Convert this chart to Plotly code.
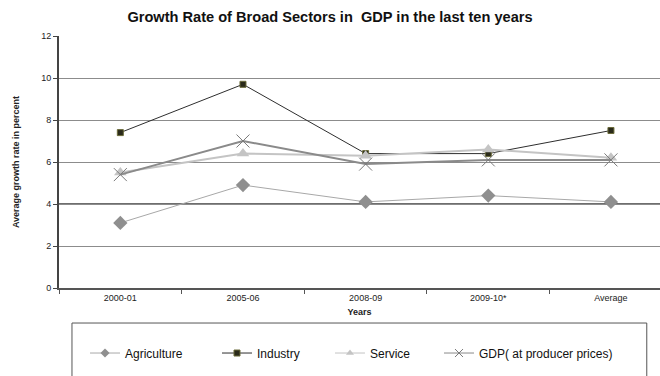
import plotly.graph_objects as go

# Sector growth rates (percent)
years = ["2000-01", "2005-06", "2008-09", "2009-10*", "Average"]
agriculture = [3.1, 4.9, 4.1, 4.4, 4.1]
industry = [7.4, 9.7, 6.4, 6.4, 7.5]
service = [5.5, 6.4, 6.3, 6.6, 6.2]
gdp = [5.4, 7.0, 5.9, 6.1, 6.1]

y_ticks = [0, 2, 4, 6, 8, 10, 12]

FONT = "Liberation Sans, Arial, sans-serif"

series = [
    dict(name="Agriculture", values=agriculture, legend="legend",
         line=dict(color="#a8a8a8", width=1),
         marker=dict(symbol="diamond", size=11, color="#8f8f8f"),
         key_marker=dict(symbol="diamond", size=7, color="#8f8f8f")),
    dict(name="Industry", values=industry, legend="legend2",
         line=dict(color="#2e2e2e", width=1),
         marker=dict(symbol="square", size=6, color="#2a2a1a",
                     line=dict(color="#6b6b3a", width=1)),
         key_marker=dict(symbol="square", size=6, color="#2a2a1a",
                         line=dict(color="#6b6b3a", width=1))),
    dict(name="Service", values=service, legend="legend3",
         line=dict(color="#c4c4c4", width=2),
         marker=dict(symbol="triangle-up", size=11, color="#c4c4c4"),
         key_marker=dict(symbol="triangle-up", size=7, color="#c4c4c4")),
    dict(name="GDP( at producer prices)", values=gdp, legend="legend4",
         line=dict(color="#8a8a8a", width=2),
         marker=dict(symbol="x-thin-open", size=13, color="#7a7a7a",
                     line=dict(color="#7a7a7a", width=1)),
         key_marker=dict(symbol="x-thin-open", size=8, color="#7a7a7a",
                         line=dict(color="#7a7a7a", width=1))),
]

fig = go.Figure()
for s in series:
    fig.add_trace(go.Scatter(
        x=years, y=s["values"], name=s["name"], mode="lines+markers",
        line=s["line"], marker=s["marker"], showlegend=False,
    ))
for s in series:
    # legend key with a smaller marker
    fig.add_trace(go.Scatter(
        x=[None], y=[None], name=s["name"], mode="lines+markers",
        line=dict(color=s["line"]["color"], width=1), marker=s["key_marker"],
        legend=s["legend"], showlegend=True, hoverinfo="skip",
    ))

# heavier rule at 4 percent
fig.add_shape(type="line", xref="paper", yref="y", x0=0, x1=1, y0=4, y1=4,
              line=dict(color="#6e6e6e", width=2), layer="below")

# legend frame
fig.add_shape(type="rect", xref="paper", yref="paper",
              x0=0.0216, x1=0.978, y0=-0.6, y1=-0.139,
              line=dict(color="#555555", width=1), fillcolor="white",
              layer="below")

legend_font = dict(family=FONT, size=12, color="#111111")


def legend_box(xpos):
    return dict(orientation="h", x=xpos, xanchor="left", y=-0.258, yanchor="middle",
                font=legend_font, bgcolor="rgba(0,0,0,0)", borderwidth=0,
                itemwidth=30)


fig.update_layout(
    width=660, height=376,
    margin=dict(l=59, r=0, t=36, b=88),
    paper_bgcolor="white", plot_bgcolor="white",
    font=dict(family=FONT, color="#222222", size=9),
    title=dict(text="<b>Growth Rate of Broad Sectors in  GDP in the last ten years</b>",
               x=0.5, xref="container", xanchor="center",
               y=1 - 17 / 376, yanchor="middle",
               font=dict(family=FONT, size=14.6, color="#111111")),
    showlegend=True,
    legend=legend_box(0.0433),
    legend2=legend_box(0.2629),
    legend3=legend_box(0.4509),
    legend4=legend_box(0.6323),
    xaxis=dict(
        type="category", range=[-0.5, 4.40],
        showgrid=False, showline=True, linecolor="#555555", linewidth=2,
        ticks="outside", ticklen=4, tickcolor="#555555",
        tickson="boundaries",
        tickfont=dict(family=FONT, size=9, color="#222222"),
        title=dict(text="<b>Years</b>", standoff=7,
                   font=dict(family=FONT, size=9, color="#222222")),
        fixedrange=True,
    ),
    yaxis=dict(
        range=[0, 12], tickvals=y_ticks,
        showgrid=True, gridcolor="#8c8c8c", gridwidth=1,
        showline=True, linecolor="#444444", linewidth=2,
        ticks="outside", ticklen=4, tickcolor="#444444",
        zeroline=False,
        tickfont=dict(family=FONT, size=9, color="#222222"),
        title=dict(text="<b>Average growth rate in percent</b>", standoff=20,
                   font=dict(family=FONT, size=9, color="#222222")),
        fixedrange=True,
    ),
)

fig.write_html("out.html")
